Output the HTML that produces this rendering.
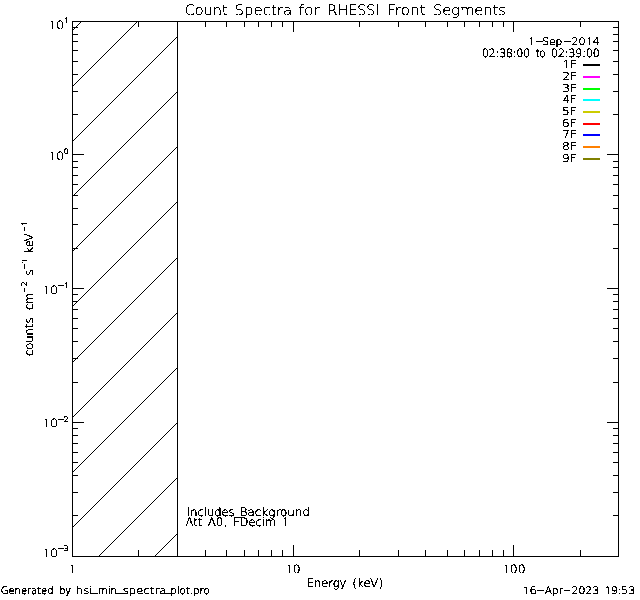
<!DOCTYPE html>
<html lang="en"><head><meta charset="utf-8"><title>Count Spectra for RHESSI Front Segments</title>
<style>html,body{margin:0;padding:0;background:#fff;}body{width:640px;height:600px;overflow:hidden;}svg{display:block;}text{font-family:"DejaVu Sans Light","DejaVu Sans","Liberation Sans",sans-serif;font-weight:200;fill:#000;stroke:#000;stroke-width:0.35px;text-rendering:geometricPrecision;}
.one{font-family:"NanumGothic","Liberation Sans",sans-serif;font-weight:400;stroke-width:0.2px;}</style></head><body>
<svg width="640" height="600" viewBox="0 0 640 600">
<rect x="0" y="0" width="640" height="600" fill="#fff"/>
<g stroke="#000" stroke-width="1" shape-rendering="crispEdges" fill="none">
<line x1="72.50" y1="30.50" x2="81.50" y2="21.50"/>
<line x1="72.50" y1="86.50" x2="137.50" y2="21.50"/>
<line x1="72.50" y1="141.50" x2="177.50" y2="36.50"/>
<line x1="72.50" y1="196.50" x2="177.50" y2="91.50"/>
<line x1="72.50" y1="251.50" x2="177.50" y2="146.50"/>
<line x1="72.50" y1="306.50" x2="177.50" y2="201.50"/>
<line x1="72.50" y1="362.50" x2="177.50" y2="257.50"/>
<line x1="72.50" y1="417.50" x2="177.50" y2="312.50"/>
<line x1="72.50" y1="472.50" x2="177.50" y2="367.50"/>
<line x1="72.50" y1="527.50" x2="177.50" y2="422.50"/>
<line x1="98.50" y1="556.50" x2="177.50" y2="477.50"/>
<line x1="154.50" y1="556.50" x2="177.50" y2="533.50"/>
</g>
<g fill="#000" shape-rendering="crispEdges">
<rect x="72" y="21" width="547" height="1"/>
<rect x="72" y="556" width="547" height="1"/>
<rect x="72" y="21" width="1" height="536"/>
<rect x="618" y="21" width="1" height="536"/>
<rect x="177" y="21" width="1" height="536"/>
<rect x="138" y="550" width="1" height="7"/>
<rect x="138" y="21" width="1" height="6"/>
<rect x="177" y="550" width="1" height="7"/>
<rect x="177" y="21" width="1" height="6"/>
<rect x="205" y="550" width="1" height="7"/>
<rect x="205" y="21" width="1" height="6"/>
<rect x="226" y="550" width="1" height="7"/>
<rect x="226" y="21" width="1" height="6"/>
<rect x="244" y="550" width="1" height="7"/>
<rect x="244" y="21" width="1" height="6"/>
<rect x="258" y="550" width="1" height="7"/>
<rect x="258" y="21" width="1" height="6"/>
<rect x="271" y="550" width="1" height="7"/>
<rect x="271" y="21" width="1" height="6"/>
<rect x="282" y="550" width="1" height="7"/>
<rect x="282" y="21" width="1" height="6"/>
<rect x="293" y="545" width="1" height="12"/>
<rect x="293" y="21" width="1" height="11"/>
<rect x="359" y="550" width="1" height="7"/>
<rect x="359" y="21" width="1" height="6"/>
<rect x="398" y="550" width="1" height="7"/>
<rect x="398" y="21" width="1" height="6"/>
<rect x="425" y="550" width="1" height="7"/>
<rect x="425" y="21" width="1" height="6"/>
<rect x="447" y="550" width="1" height="7"/>
<rect x="447" y="21" width="1" height="6"/>
<rect x="464" y="550" width="1" height="7"/>
<rect x="464" y="21" width="1" height="6"/>
<rect x="479" y="550" width="1" height="7"/>
<rect x="479" y="21" width="1" height="6"/>
<rect x="492" y="550" width="1" height="7"/>
<rect x="492" y="21" width="1" height="6"/>
<rect x="503" y="550" width="1" height="7"/>
<rect x="503" y="21" width="1" height="6"/>
<rect x="513" y="545" width="1" height="12"/>
<rect x="513" y="21" width="1" height="11"/>
<rect x="580" y="550" width="1" height="7"/>
<rect x="580" y="21" width="1" height="6"/>
<rect x="72" y="515" width="6" height="1"/>
<rect x="613" y="515" width="6" height="1"/>
<rect x="72" y="492" width="6" height="1"/>
<rect x="613" y="492" width="6" height="1"/>
<rect x="72" y="475" width="6" height="1"/>
<rect x="613" y="475" width="6" height="1"/>
<rect x="72" y="462" width="6" height="1"/>
<rect x="613" y="462" width="6" height="1"/>
<rect x="72" y="452" width="6" height="1"/>
<rect x="613" y="452" width="6" height="1"/>
<rect x="72" y="443" width="6" height="1"/>
<rect x="613" y="443" width="6" height="1"/>
<rect x="72" y="435" width="6" height="1"/>
<rect x="613" y="435" width="6" height="1"/>
<rect x="72" y="428" width="6" height="1"/>
<rect x="613" y="428" width="6" height="1"/>
<rect x="72" y="422" width="12" height="1"/>
<rect x="607" y="422" width="12" height="1"/>
<rect x="72" y="382" width="6" height="1"/>
<rect x="613" y="382" width="6" height="1"/>
<rect x="72" y="358" width="6" height="1"/>
<rect x="613" y="358" width="6" height="1"/>
<rect x="72" y="341" width="6" height="1"/>
<rect x="613" y="341" width="6" height="1"/>
<rect x="72" y="328" width="6" height="1"/>
<rect x="613" y="328" width="6" height="1"/>
<rect x="72" y="318" width="6" height="1"/>
<rect x="613" y="318" width="6" height="1"/>
<rect x="72" y="309" width="6" height="1"/>
<rect x="613" y="309" width="6" height="1"/>
<rect x="72" y="301" width="6" height="1"/>
<rect x="613" y="301" width="6" height="1"/>
<rect x="72" y="294" width="6" height="1"/>
<rect x="613" y="294" width="6" height="1"/>
<rect x="72" y="288" width="12" height="1"/>
<rect x="607" y="288" width="12" height="1"/>
<rect x="72" y="248" width="6" height="1"/>
<rect x="613" y="248" width="6" height="1"/>
<rect x="72" y="224" width="6" height="1"/>
<rect x="613" y="224" width="6" height="1"/>
<rect x="72" y="208" width="6" height="1"/>
<rect x="613" y="208" width="6" height="1"/>
<rect x="72" y="195" width="6" height="1"/>
<rect x="613" y="195" width="6" height="1"/>
<rect x="72" y="184" width="6" height="1"/>
<rect x="613" y="184" width="6" height="1"/>
<rect x="72" y="175" width="6" height="1"/>
<rect x="613" y="175" width="6" height="1"/>
<rect x="72" y="167" width="6" height="1"/>
<rect x="613" y="167" width="6" height="1"/>
<rect x="72" y="161" width="6" height="1"/>
<rect x="613" y="161" width="6" height="1"/>
<rect x="72" y="154" width="12" height="1"/>
<rect x="607" y="154" width="12" height="1"/>
<rect x="72" y="114" width="6" height="1"/>
<rect x="613" y="114" width="6" height="1"/>
<rect x="72" y="91" width="6" height="1"/>
<rect x="613" y="91" width="6" height="1"/>
<rect x="72" y="74" width="6" height="1"/>
<rect x="613" y="74" width="6" height="1"/>
<rect x="72" y="61" width="6" height="1"/>
<rect x="613" y="61" width="6" height="1"/>
<rect x="72" y="50" width="6" height="1"/>
<rect x="613" y="50" width="6" height="1"/>
<rect x="72" y="41" width="6" height="1"/>
<rect x="613" y="41" width="6" height="1"/>
<rect x="72" y="34" width="6" height="1"/>
<rect x="613" y="34" width="6" height="1"/>
<rect x="72" y="27" width="6" height="1"/>
<rect x="613" y="27" width="6" height="1"/>
</g>
<g shape-rendering="crispEdges">
<rect x="583" y="64" width="17" height="2" fill="#000000"/>
<rect x="583" y="76" width="17" height="2" fill="#ff00ff"/>
<rect x="583" y="88" width="17" height="2" fill="#00ff00"/>
<rect x="583" y="99" width="17" height="2" fill="#00ffff"/>
<rect x="583" y="111" width="17" height="2" fill="#cccc00"/>
<rect x="583" y="123" width="17" height="2" fill="#ff0000"/>
<rect x="583" y="134" width="17" height="2" fill="#0000ff"/>
<rect x="583" y="146" width="17" height="2" fill="#ff8000"/>
<rect x="583" y="158" width="17" height="2" fill="#808000"/>
</g>
<defs><filter id="bin" filterUnits="userSpaceOnUse" x="0" y="0" width="640" height="600" color-interpolation-filters="sRGB"><feComponentTransfer><feFuncA type="discrete" tableValues="0 1"/></feComponentTransfer></filter></defs>

<g class="txt" filter="url(#bin)">
<text x="184.75" y="14.75" font-size="14.43" textLength="42.85" lengthAdjust="spacingAndGlyphs" style="stroke-width:0.26px">Count</text>
<text x="234.50" y="14.75" font-size="14.43" textLength="57.64" lengthAdjust="spacingAndGlyphs" style="stroke-width:0.23px">Spectra</text>
<text x="298.50" y="14.75" font-size="14.43" textLength="21.37" lengthAdjust="spacingAndGlyphs" style="stroke-width:0.20px">for</text>
<text x="327.50" y="14.75" font-size="14.43" textLength="52.18" lengthAdjust="spacingAndGlyphs" style="stroke-width:0.27px">RHESSI</text>
<text x="387.25" y="14.75" font-size="14.43" textLength="38.34" lengthAdjust="spacingAndGlyphs" style="stroke-width:0.22px">Front</text>
<text x="433.00" y="14.75" font-size="14.43" textLength="73.00" lengthAdjust="spacingAndGlyphs" style="stroke-width:0.25px">Segments</text>
<text x="527.75" y="44.75" font-size="10.33" textLength="7.39" lengthAdjust="spacingAndGlyphs" style="stroke-width:0.31px"><tspan class="one" style="stroke-width:0.08px">1</tspan></text>
<text x="535.25" y="44.38" font-size="10.33" textLength="8.09" lengthAdjust="spacingAndGlyphs" style="stroke-width:0.54px">-</text>
<text x="542.25" y="44.75" font-size="10.33" textLength="19.98" lengthAdjust="spacingAndGlyphs" style="stroke-width:0.43px">Sep</text>
<text x="563.75" y="44.38" font-size="10.33" textLength="7.95" lengthAdjust="spacingAndGlyphs" style="stroke-width:0.54px">-</text>
<text x="571.50" y="44.75" font-size="10.33" textLength="28.14" lengthAdjust="spacingAndGlyphs" style="stroke-width:0.39px">20<tspan class="one" style="stroke-width:0.15px">1</tspan>4</text>
<text x="482.00" y="56.75" font-size="11.40" textLength="48.00" lengthAdjust="spacingAndGlyphs" style="stroke-width:0.47px">02<tspan style="stroke-width:0.75px">:</tspan>38<tspan style="stroke-width:0.75px">:</tspan>00</text>
<text x="535.75" y="56.75" font-size="11.40" textLength="9.70" lengthAdjust="spacingAndGlyphs" style="stroke-width:0.58px">to</text>
<text x="551.00" y="56.75" font-size="11.40" textLength="48.77" lengthAdjust="spacingAndGlyphs" style="stroke-width:0.45px">02<tspan style="stroke-width:0.75px">:</tspan>39<tspan style="stroke-width:0.75px">:</tspan>00</text>
<text x="68.50" y="572.75" font-size="11.40" textLength="7.67" lengthAdjust="spacingAndGlyphs" style="stroke-width:0.31px"><tspan class="one" style="stroke-width:0.06px">1</tspan></text>
<text x="285.25" y="572.75" font-size="11.40" textLength="15.24" lengthAdjust="spacingAndGlyphs" style="stroke-width:0.34px"><tspan class="one" style="stroke-width:0.08px">1</tspan>0</text>
<text x="502.25" y="572.75" font-size="11.40" textLength="23.31" lengthAdjust="spacingAndGlyphs" style="stroke-width:0.33px"><tspan class="one" style="stroke-width:0.07px">1</tspan>00</text>
<text x="306.75" y="586.75" font-size="11.70" textLength="39.58" lengthAdjust="spacingAndGlyphs" style="stroke-width:0.42px">Energy</text>
<text x="352.25" y="586.75" font-size="11.70" textLength="30.89" lengthAdjust="spacingAndGlyphs" style="stroke-width:0.36px">(keV)</text>
<text x="186.75" y="515.75" font-size="11.70" textLength="47.70" lengthAdjust="spacingAndGlyphs" style="stroke-width:0.41px">Includes</text>
<text x="234.50" y="515.00" font-size="11.70" textLength="5.99" lengthAdjust="spacingAndGlyphs" style="stroke-width:0.48px">_</text>
<text x="239.75" y="515.75" font-size="11.70" textLength="70.21" lengthAdjust="spacingAndGlyphs" style="stroke-width:0.38px">Background</text>
<text x="185.50" y="525.75" font-size="11.70" textLength="16.97" lengthAdjust="spacingAndGlyphs" style="stroke-width:0.39px">Att</text>
<text x="207.75" y="525.75" font-size="11.70" textLength="19.43" lengthAdjust="spacingAndGlyphs" style="stroke-width:0.38px">A0<tspan style="stroke-width:0.75px">,</tspan></text>
<text x="233.00" y="525.75" font-size="11.70" textLength="43.19" lengthAdjust="spacingAndGlyphs" style="stroke-width:0.41px">FDecim</text>
<text x="281.50" y="525.75" font-size="11.70" textLength="7.40" lengthAdjust="spacingAndGlyphs" style="stroke-width:0.36px"><tspan class="one" style="stroke-width:0.09px">1</tspan></text>
<text x="0.75" y="593.75" font-size="10.33" textLength="52.82" lengthAdjust="spacingAndGlyphs" style="stroke-width:0.49px">Generated</text>
<text x="59.25" y="593.75" font-size="10.33" textLength="11.70" lengthAdjust="spacingAndGlyphs" style="stroke-width:0.54px">by</text>
<text x="75.75" y="593.75" font-size="10.33" textLength="16.75" lengthAdjust="spacingAndGlyphs" style="stroke-width:0.35px">hsi</text>
<text x="91.75" y="591.25" font-size="10.33" textLength="6.28" lengthAdjust="spacingAndGlyphs" style="stroke-width:0.54px">_</text>
<text x="98.00" y="593.75" font-size="10.33" textLength="18.68" lengthAdjust="spacingAndGlyphs" style="stroke-width:0.50px">min</text>
<text x="116.50" y="591.25" font-size="10.33" textLength="6.28" lengthAdjust="spacingAndGlyphs" style="stroke-width:0.54px">_</text>
<text x="122.75" y="593.75" font-size="10.33" textLength="43.76" lengthAdjust="spacingAndGlyphs" style="stroke-width:0.35px">spectra</text>
<text x="166.00" y="591.25" font-size="10.33" textLength="4.76" lengthAdjust="spacingAndGlyphs" style="stroke-width:0.54px">_</text>
<text x="170.25" y="593.75" font-size="10.33" textLength="39.45" lengthAdjust="spacingAndGlyphs" style="stroke-width:0.47px">plot<tspan style="stroke-width:0.75px">.</tspan>pro</text>
<text x="522.25" y="593.75" font-size="10.33" textLength="14.90" lengthAdjust="spacingAndGlyphs" style="stroke-width:0.33px"><tspan class="one" style="stroke-width:0.09px">1</tspan>6</text>
<text x="536.25" y="593.38" font-size="10.33" textLength="9.03" lengthAdjust="spacingAndGlyphs" style="stroke-width:0.54px">-</text>
<text x="544.75" y="593.75" font-size="10.33" textLength="18.24" lengthAdjust="spacingAndGlyphs" style="stroke-width:0.44px">Apr</text>
<text x="563.00" y="593.38" font-size="10.33" textLength="8.24" lengthAdjust="spacingAndGlyphs" style="stroke-width:0.54px">-</text>
<text x="571.50" y="593.75" font-size="10.33" textLength="27.63" lengthAdjust="spacingAndGlyphs" style="stroke-width:0.41px">2023</text>
<text x="604.50" y="593.75" font-size="10.33" textLength="30.50" lengthAdjust="spacingAndGlyphs" style="stroke-width:0.43px"><tspan class="one" style="stroke-width:0.19px">1</tspan>9<tspan style="stroke-width:0.75px">:</tspan>53</text>
<text x="562.25" y="67.75" font-size="11.00" textLength="14.48" lengthAdjust="spacingAndGlyphs" style="stroke-width:0.33px"><tspan class="one" style="stroke-width:0.08px">1</tspan>F</text>
<text x="562.50" y="79.75" font-size="11.00" textLength="14.26" lengthAdjust="spacingAndGlyphs" style="stroke-width:0.36px">2F</text>
<text x="562.25" y="91.75" font-size="11.00" textLength="14.56" lengthAdjust="spacingAndGlyphs" style="stroke-width:0.35px">3F</text>
<text x="562.75" y="102.75" font-size="11.00" textLength="13.97" lengthAdjust="spacingAndGlyphs" style="stroke-width:0.38px">4F</text>
<text x="562.00" y="114.75" font-size="11.00" textLength="14.59" lengthAdjust="spacingAndGlyphs" style="stroke-width:0.34px">5F</text>
<text x="562.00" y="126.75" font-size="11.00" textLength="14.59" lengthAdjust="spacingAndGlyphs" style="stroke-width:0.34px">6F</text>
<text x="562.25" y="137.75" font-size="11.00" textLength="14.56" lengthAdjust="spacingAndGlyphs" style="stroke-width:0.35px">7F</text>
<text x="562.00" y="149.75" font-size="11.00" textLength="14.85" lengthAdjust="spacingAndGlyphs" style="stroke-width:0.33px">8F</text>
<text x="562.00" y="161.75" font-size="11.00" textLength="14.59" lengthAdjust="spacingAndGlyphs" style="stroke-width:0.34px">9F</text>
<text x="48.25" y="28.75" font-size="11.40" textLength="16.09" lengthAdjust="spacingAndGlyphs" style="stroke-width:0.29px"><tspan class="one" style="stroke-width:0.04px">1</tspan>0</text>
<text x="48.25" y="159.75" font-size="11.40" textLength="16.09" lengthAdjust="spacingAndGlyphs" style="stroke-width:0.29px"><tspan class="one" style="stroke-width:0.04px">1</tspan>0</text>
<text x="42.25" y="293.75" font-size="11.40" textLength="16.03" lengthAdjust="spacingAndGlyphs" style="stroke-width:0.30px"><tspan class="one" style="stroke-width:0.04px">1</tspan>0</text>
<text x="42.25" y="426.75" font-size="11.40" textLength="16.03" lengthAdjust="spacingAndGlyphs" style="stroke-width:0.30px"><tspan class="one" style="stroke-width:0.04px">1</tspan>0</text>
<text x="42.25" y="556.75" font-size="11.40" textLength="16.03" lengthAdjust="spacingAndGlyphs" style="stroke-width:0.30px"><tspan class="one" style="stroke-width:0.04px">1</tspan>0</text>
<text x="63.25" y="22.75" font-size="7.60" textLength="6.34" lengthAdjust="spacingAndGlyphs" style="stroke-width:0.33px"><tspan class="one" style="stroke-width:0.16px">1</tspan></text>
<text x="63.75" y="153.75" font-size="7.60" textLength="4.77" lengthAdjust="spacingAndGlyphs" style="stroke-width:0.60px">0</text>
<text x="63.50" y="287.75" font-size="7.60" textLength="5.53" lengthAdjust="spacingAndGlyphs" style="stroke-width:0.43px"><tspan class="one" style="stroke-width:0.26px">1</tspan></text>
<text x="63.50" y="421.75" font-size="7.60" textLength="5.02" lengthAdjust="spacingAndGlyphs" style="stroke-width:0.55px">2</text>
<text x="63.50" y="550.75" font-size="7.60" textLength="5.37" lengthAdjust="spacingAndGlyphs" style="stroke-width:0.49px">3</text>
<text x="57.50" y="287.62" font-size="7.60" textLength="7.04" lengthAdjust="spacingAndGlyphs" style="stroke-width:0.65px">-</text>
<text x="57.50" y="421.62" font-size="7.60" textLength="7.04" lengthAdjust="spacingAndGlyphs" style="stroke-width:0.65px">-</text>
<text x="57.50" y="550.62" font-size="7.60" textLength="7.04" lengthAdjust="spacingAndGlyphs" style="stroke-width:0.65px">-</text>
<text transform="translate(33.00,355.60) rotate(-90)" x="-0.50" y="-0.25" font-size="11.70" textLength="38.56" lengthAdjust="spacingAndGlyphs" style="stroke-width:0.41px">counts</text>
<text transform="translate(33.00,309.50) rotate(-90)" x="-0.50" y="-0.25" font-size="11.70" textLength="16.94" lengthAdjust="spacingAndGlyphs" style="stroke-width:0.44px">cm</text>
<text transform="translate(27.00,292.00) rotate(-90)" x="-0.25" y="-0.38" font-size="7.60" textLength="5.21" lengthAdjust="spacingAndGlyphs" style="stroke-width:0.65px">-</text>
<text transform="translate(27.00,286.20) rotate(-90)" x="-0.25" y="-0.25" font-size="7.60" textLength="5.20" lengthAdjust="spacingAndGlyphs" style="stroke-width:0.52px">2</text>
<text transform="translate(33.00,275.00) rotate(-90)" x="-0.75" y="-0.25" font-size="11.70" textLength="6.41" lengthAdjust="spacingAndGlyphs" style="stroke-width:0.35px">s</text>
<text transform="translate(27.00,268.80) rotate(-90)" x="-0.25" y="-0.38" font-size="7.60" textLength="5.04" lengthAdjust="spacingAndGlyphs" style="stroke-width:0.65px">-</text>
<text transform="translate(27.00,263.20) rotate(-90)" x="-1.75" y="-0.25" font-size="7.60" textLength="7.60" lengthAdjust="spacingAndGlyphs" style="stroke-width:0.21px"><tspan class="one" style="stroke-width:0.04px">1</tspan></text>
<text transform="translate(33.00,251.90) rotate(-90)" x="-1.50" y="-0.25" font-size="11.70" textLength="19.93" lengthAdjust="spacingAndGlyphs" style="stroke-width:0.43px">keV</text>
<text transform="translate(27.00,231.25) rotate(-90)" x="-0.25" y="-0.38" font-size="7.60" textLength="4.82" lengthAdjust="spacingAndGlyphs" style="stroke-width:0.65px">-</text>
<text transform="translate(27.00,225.70) rotate(-90)" x="-1.50" y="-0.25" font-size="7.60" textLength="6.46" lengthAdjust="spacingAndGlyphs" style="stroke-width:0.32px"><tspan class="one" style="stroke-width:0.14px">1</tspan></text>
</g>
</svg></body></html>
